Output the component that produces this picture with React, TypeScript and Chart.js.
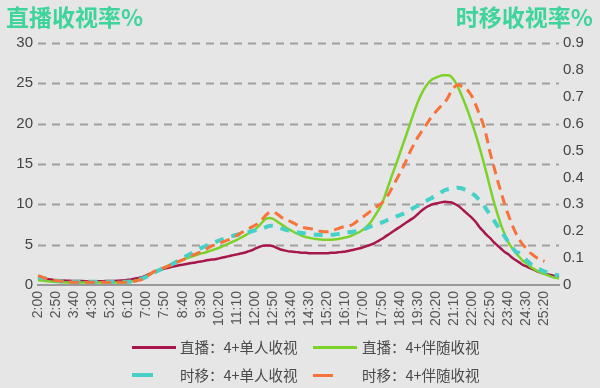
import React, { useEffect, useRef } from "react";
import { Chart, registerables } from "chart.js";

Chart.register(...registerables);

// Tick labels every 50 minutes (data every 10 minutes from 2:00 to 26:00)
const TICK_LABELS = [
  "2:00", "2:50", "3:40", "4:30", "5:20", "6:10", "7:00", "7:50", "8:40", "9:30",
  "10:20", "11:10", "12:00", "12:50", "13:40", "14:30", "15:20", "16:10", "17:00", "17:50",
  "18:40", "19:30", "20:20", "21:10", "22:00", "22:50", "23:40", "24:30", "25:20",
];

// categories: 10-minute slots from 2:00 to 26:00
const CATEGORIES: string[] = [];
for (let m = 120; m <= 1560; m += 10) {
  const h = Math.floor(m / 60);
  const mm = m % 60;
  CATEGORIES.push(`${h}:${mm < 10 ? "0" + mm : mm}`);
}

// 直播：4+单人收视 (left axis)
const LIVE_SINGLE = [
  0.85, 0.8, 0.75, 0.7, 0.65, 0.6, 0.58, 0.55, 0.53, 0.52,
  0.5, 0.5, 0.49, 0.48, 0.48, 0.48, 0.48, 0.48, 0.48, 0.49,
  0.5, 0.5, 0.52, 0.55, 0.6, 0.65, 0.7, 0.8, 0.9, 1.0,
  1.2, 1.4, 1.6, 1.75, 1.9, 2.05, 2.15, 2.25, 2.35, 2.45,
  2.5, 2.6, 2.7, 2.75, 2.85, 2.9, 3.0, 3.1, 3.15, 3.2,
  3.3, 3.4, 3.5, 3.6, 3.7, 3.8, 3.9, 4.0, 4.15, 4.3,
  4.5, 4.7, 4.85, 4.9, 4.9, 4.8, 4.6, 4.4, 4.3, 4.2,
  4.15, 4.1, 4.05, 4.0, 4.0, 3.95, 3.95, 3.95, 3.95, 3.95,
  3.95, 4.0, 4.0, 4.05, 4.1, 4.15, 4.25, 4.35, 4.45, 4.55,
  4.7, 4.85, 5.0, 5.2, 5.45, 5.7, 6.0, 6.3, 6.6, 6.9,
  7.2, 7.5, 7.8, 8.1, 8.4, 8.8, 9.2, 9.55, 9.8, 10.0,
  10.1, 10.2, 10.3, 10.3, 10.25, 10.1, 9.85, 9.5, 9.1, 8.7,
  8.3, 7.8, 7.2, 6.7, 6.2, 5.8, 5.3, 4.9, 4.5, 4.1,
  3.8, 3.4, 3.1, 2.8, 2.5, 2.3, 2.1, 1.9, 1.7, 1.55,
  1.45, 1.3, 1.2, 1.1, 1.0,
];

// 直播：4+伴随收视 (left axis)
const LIVE_COMPANION = [
  0.6, 0.55, 0.5, 0.45, 0.4, 0.38, 0.35, 0.33, 0.32, 0.3,
  0.3, 0.3, 0.3, 0.3, 0.3, 0.3, 0.3, 0.3, 0.3, 0.3,
  0.3, 0.3, 0.3, 0.32, 0.35, 0.4, 0.45, 0.55, 0.7, 0.9,
  1.1, 1.35, 1.6, 1.8, 2.0, 2.2, 2.4, 2.6, 2.8, 2.95,
  3.1, 3.3, 3.45, 3.6, 3.75, 3.9, 4.0, 4.15, 4.3, 4.45,
  4.6, 4.8, 5.0, 5.2, 5.4, 5.6, 5.85, 6.1, 6.35, 6.6,
  6.9, 7.3, 7.8, 8.2, 8.3, 8.2, 7.9, 7.6, 7.3, 7.0,
  6.75, 6.5, 6.3, 6.1, 5.95, 5.85, 5.75, 5.7, 5.65, 5.6,
  5.6, 5.6, 5.65, 5.7, 5.8, 5.9, 6.0, 6.2, 6.4, 6.6,
  6.9, 7.3, 7.8, 8.5, 9.2, 10.0, 11.2, 12.5, 13.8, 15.0,
  16.3, 17.6, 18.9, 20.2, 21.5, 22.7, 23.7, 24.5, 25.1, 25.5,
  25.7, 25.9, 26.0, 26.0, 25.9, 25.4, 24.6, 23.6, 22.5, 21.3,
  20.0, 18.6, 17.1, 15.5, 13.8, 12.0, 10.3, 8.8, 7.4, 6.3,
  5.3, 4.6, 4.0, 3.5, 3.0, 2.7, 2.3, 2.0, 1.75, 1.55,
  1.35, 1.2, 1.0, 0.9, 0.8,
];

// 时移：4+单人收视 (right axis)
const SHIFT_SINGLE = [
  0.03, 0.027, 0.024, 0.02, 0.018, 0.016, 0.015, 0.013, 0.012, 0.012,
  0.012, 0.012, 0.012, 0.012, 0.012, 0.012, 0.012, 0.012, 0.012, 0.012,
  0.012, 0.012, 0.012, 0.012, 0.012, 0.012, 0.013, 0.015, 0.02, 0.025,
  0.03, 0.038, 0.045, 0.052, 0.058, 0.065, 0.07, 0.077, 0.085, 0.092,
  0.1, 0.108, 0.115, 0.122, 0.13, 0.137, 0.143, 0.15, 0.155, 0.16,
  0.165, 0.17, 0.175, 0.18, 0.183, 0.187, 0.19, 0.193, 0.196, 0.2,
  0.203, 0.206, 0.21, 0.215, 0.22, 0.22, 0.217, 0.212, 0.207, 0.203,
  0.2, 0.197, 0.195, 0.193, 0.192, 0.19, 0.188, 0.187, 0.186, 0.186,
  0.186, 0.187, 0.188, 0.19, 0.192, 0.194, 0.196, 0.198, 0.2, 0.203,
  0.207, 0.212, 0.218, 0.222, 0.227, 0.232, 0.238, 0.245, 0.25, 0.255,
  0.26, 0.265, 0.272, 0.28, 0.288, 0.295, 0.302, 0.31, 0.318, 0.325,
  0.332, 0.34, 0.35, 0.355, 0.358, 0.36, 0.362, 0.36, 0.355, 0.35,
  0.34, 0.33, 0.315, 0.3, 0.28, 0.26, 0.24, 0.22, 0.2, 0.18,
  0.16, 0.142, 0.125, 0.118, 0.105, 0.093, 0.08, 0.07, 0.062, 0.056,
  0.05, 0.046, 0.042, 0.038, 0.035,
];

// 时移：4+伴随收视 (right axis)
const SHIFT_COMPANION = [
  0.035, 0.03, 0.025, 0.02, 0.018, 0.016, 0.015, 0.013, 0.012, 0.011,
  0.01, 0.01, 0.01, 0.01, 0.01, 0.01, 0.01, 0.01, 0.01, 0.01,
  0.01, 0.01, 0.01, 0.01, 0.01, 0.01, 0.012, 0.015, 0.018, 0.022,
  0.03, 0.04, 0.05, 0.055, 0.06, 0.065, 0.07, 0.076, 0.082, 0.088,
  0.093, 0.1, 0.106, 0.112, 0.118, 0.123, 0.13, 0.138, 0.145, 0.15,
  0.155, 0.16, 0.165, 0.17, 0.178, 0.185, 0.193, 0.2, 0.208, 0.215,
  0.222, 0.232, 0.245, 0.26, 0.27, 0.272, 0.265, 0.255, 0.245, 0.24,
  0.235, 0.228, 0.22, 0.215, 0.212, 0.21, 0.207, 0.203, 0.2, 0.198,
  0.198, 0.2, 0.205, 0.21, 0.215, 0.218, 0.22, 0.225, 0.235, 0.245,
  0.255, 0.265, 0.275, 0.285, 0.295, 0.305, 0.32, 0.34, 0.365, 0.39,
  0.415, 0.44, 0.47, 0.5, 0.525, 0.55, 0.57, 0.59, 0.61, 0.63,
  0.645, 0.66, 0.675, 0.69, 0.715, 0.735, 0.745, 0.74, 0.735, 0.72,
  0.7, 0.67, 0.635, 0.6, 0.55, 0.49, 0.44, 0.39, 0.345, 0.3,
  0.26, 0.225, 0.195, 0.17, 0.15, 0.135, 0.12, 0.11, 0.1, 0.093,
  0.088, null, null, null, null,
];

const SERIES_NAMES = ["直播：4+单人收视", "直播：4+伴随收视", "时移：4+单人收视", "时移：4+伴随收视"];
const COLORS = ["#a8174c", "#7cd22a", "#45d0c8", "#f7733a"];

const LEFT_TITLE = "直播收视率%";
const RIGHT_TITLE = "时移收视率%";

const BG = "#e6e6e6";
const TITLE_COLOR = "#3fd49c";

// Dashed horizontal grid drawn from the left scale's own ticks
const dashedGrid = {
  id: "dashedGrid",
  beforeDatasetsDraw(chart: any) {
    const scale = chart.scales.y;
    const { left, right } = chart.chartArea;
    const ctx = chart.ctx;
    scale.ticks.forEach((t: any) => {
      if (t.value === 0) return;
      const py = Math.round(scale.getPixelForValue(t.value)) + 0.5;
      ctx.save();
      ctx.strokeStyle = "#a0a0a0";
      ctx.lineWidth = 2;
      ctx.setLineDash([8, 6]);
      ctx.beginPath();
      ctx.moveTo(left, py);
      ctx.lineTo(right, py);
      ctx.stroke();
      ctx.restore();
    });
  },
};

export default function App() {
  const canvasRef = useRef<HTMLCanvasElement | null>(null);

  useEffect(() => {
    const canvas = canvasRef.current;
    if (!canvas) return;
    const tickFont = { family: "'Liberation Sans', Arial, sans-serif", size: 15 };
    const chart = new Chart(canvas, {
      type: "line",
      data: {
        labels: CATEGORIES,
        datasets: [
          { label: SERIES_NAMES[0], data: LIVE_SINGLE, borderColor: COLORS[0], borderWidth: 2.5, pointRadius: 0, tension: 0.35, yAxisID: "y", order: 4 },
          { label: SERIES_NAMES[1], data: LIVE_COMPANION, borderColor: COLORS[1], borderWidth: 2.5, pointRadius: 0, tension: 0.35, yAxisID: "y", order: 3 },
          { label: SERIES_NAMES[2], data: SHIFT_SINGLE, borderColor: COLORS[2], borderWidth: 4, borderDash: [9, 8], pointRadius: 0, tension: 0.35, yAxisID: "y1", order: 2 },
          { label: SERIES_NAMES[3], data: SHIFT_COMPANION, borderColor: COLORS[3], borderWidth: 3, borderDash: [10, 6], pointRadius: 0, tension: 0.35, yAxisID: "y1", order: 1 },
        ],
      },
      options: {
        animation: false,
        responsive: false,
        maintainAspectRatio: false,
        layout: { padding: { top: 43, left: 0, right: 0, bottom: 0 } },
        plugins: { legend: { display: false }, tooltip: { enabled: false }, title: { display: false } },
        scales: {
          x: {
            type: "category",
            offset: false,
            grid: { display: false, drawTicks: false },
            border: { display: true, color: "#9a9a9a", width: 2 },
            ticks: {
              autoSkip: false, maxRotation: 90, minRotation: 90, padding: 6, color: "#555555",
              font: { family: "'Liberation Sans', Arial, sans-serif", size: 14 },
              callback: (_v: any, index: number) => (index % 5 === 0 ? TICK_LABELS[index / 5] ?? "" : ""),
            },
            afterFit: (scale: any) => { scale.height = 103; },
          },
          y: {
            position: "left", min: 0, max: 30,
            ticks: { stepSize: 5, color: "#444444", font: tickFont, padding: 5 },
            grid: { display: false, drawTicks: false },
            border: { display: false },
            afterFit: (scale: any) => { scale.width = 38; },
          },
          y1: {
            position: "right", min: 0, max: 0.9,
            ticks: { stepSize: 0.1, color: "#444444", font: tickFont, padding: 4 },
            grid: { display: false, drawTicks: false },
            border: { display: false },
            afterFit: (scale: any) => { scale.width = 41; },
          },
        },
      },
      plugins: [dashedGrid],
    });
    return () => chart.destroy();
  }, []);

  const legendText: React.CSSProperties = {
    position: "absolute", fontFamily: "'Noto Sans CJK SC', sans-serif", fontSize: 14.5,
    lineHeight: "20px", color: "#4a4a4a", whiteSpace: "nowrap",
  };
  const titleStyle: React.CSSProperties = {
    position: "absolute", top: 4, fontFamily: "'Noto Sans CJK SC', sans-serif", fontWeight: 700,
    fontSize: 23, lineHeight: "24px", color: TITLE_COLOR, whiteSpace: "nowrap",
  };
  const bar = (left: number, top: number, width: number, height: number, color: string) => (
    <div style={{ position: "absolute", left, top, width, height, background: color }} />
  );

  return (
    <div style={{ position: "fixed", left: 0, top: 0, width: 600, height: 388, background: BG, overflow: "hidden" }}>
      <canvas ref={canvasRef} width={600} height={388} style={{ position: "absolute", left: 0, top: 0 }} />
      <div style={{ ...titleStyle, left: 6 }}>{LEFT_TITLE}</div>
      <div style={{ ...titleStyle, right: 7, textAlign: "right" }}>{RIGHT_TITLE}</div>
      {bar(132, 346, 44, 3, COLORS[0])}
      <div style={{ ...legendText, left: 180, top: 337 }}>{SERIES_NAMES[0]}</div>
      {bar(313, 346, 44, 3, COLORS[1])}
      <div style={{ ...legendText, left: 362, top: 337 }}>{SERIES_NAMES[1]}</div>
      {bar(132, 373, 21, 4, COLORS[2])}
      <div style={{ ...legendText, left: 180, top: 365 }}>{SERIES_NAMES[2]}</div>
      {bar(313, 374, 20, 3, COLORS[3])}
      <div style={{ ...legendText, left: 362, top: 365 }}>{SERIES_NAMES[3]}</div>
    </div>
  );
}
